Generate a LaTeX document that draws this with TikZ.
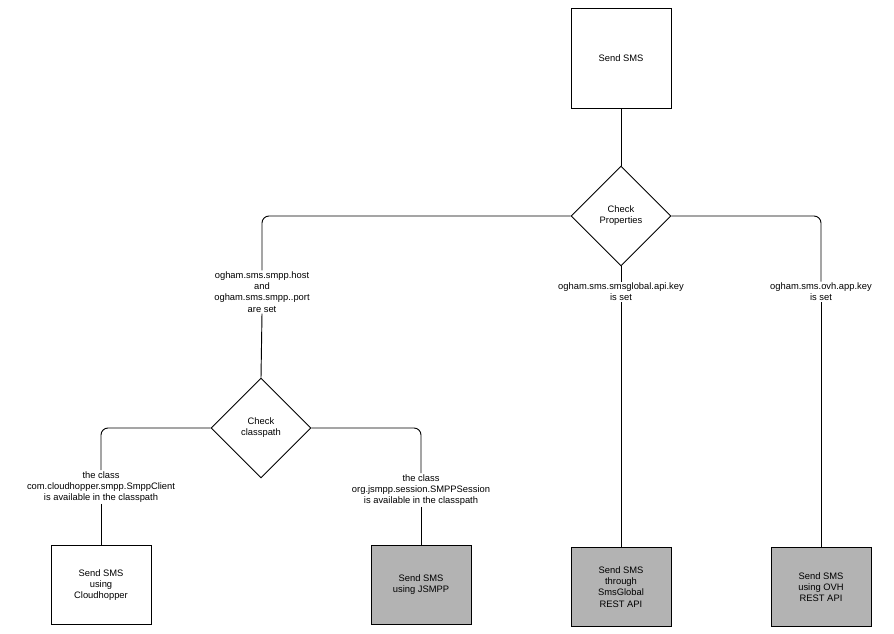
\documentclass[tikz,border=0pt]{standalone}
\usepackage{fontspec}
\setmainfont{Liberation Sans}
\usetikzlibrary{shapes.geometric}
\definecolor{boxgray}{HTML}{B3B3B3}
\tikzset{
  action/.style={draw,thick,minimum width=3cm,minimum height=2.35cm,align=center,font=\footnotesize,inner sep=2pt},
  done/.style={action,fill=boxgray},
  check/.style={draw,thick,diamond,minimum width=3cm,minimum height=3cm,inner sep=0pt,align=center,font=\footnotesize},
  cond/.style={fill=white,align=center,font=\footnotesize,inner sep=1pt},
  flow/.style={thick,rounded corners=6pt}
}
\begin{document}
\begin{tikzpicture}[x=0.03cm,y=-0.03cm]
  \useasboundingbox (0,0) rectangle (894,633);
  \node[action,minimum height=3cm] (send) at (621,58) {Send SMS};
  \node[check] (props) at (621,216) {Check\\Properties};
  \node[check] (classpath) at (261,428) {Check\\classpath};
  % leaves
  \node[action] (cloud) at (101,585) {Send SMS\\using\\Cloudhopper};
  \node[done] (jsmpp) at (421,585) {Send SMS\\using JSMPP};
  \node[done] (global) at (621,587) {Send SMS\\through\\SmsGlobal\\REST API};
  \node[done] (ovh) at (821,587) {Send SMS\\using OVH\\REST API};
  % conditions
  \node[cond] (host) at (262,292) {ogham.sms.smpp.host\\and\\ogham.sms.smpp..port\\are set};
  \node[cond] (apikey) at (621,292) {ogham.sms.smsglobal.api.key\\is set};
  \node[cond] (appkey) at (821,292) {ogham.sms.ovh.app.key\\is set};
  \node[cond] (cloudcls) at (101,487) {the class\\com.cloudhopper.smpp.SmppClient\\is available in the classpath};
  \node[cond] (jsmppcls) at (421,490) {the class\\org.jsmpp.session.SMPPSession\\is available in the classpath};
  % connectors
  \draw[flow] (send) -- (props);
  \draw[flow] (props.west) -| (host.north);
  \draw[flow] (host.south) -- (classpath.north);
  \draw[flow] (props.south) -- (apikey.north);
  \draw[flow] (apikey.south) -- (global.north);
  \draw[flow] (props.east) -| (appkey.north);
  \draw[flow] (appkey.south) -- (ovh.north);
  \draw[flow] (classpath.west) -| (cloudcls.north);
  \draw[flow] (cloudcls.south) -- (cloud.north);
  \draw[flow] (classpath.east) -| (jsmppcls.north);
  \draw[flow] (jsmppcls.south) -- (jsmpp.north);
\end{tikzpicture}
\end{document}
